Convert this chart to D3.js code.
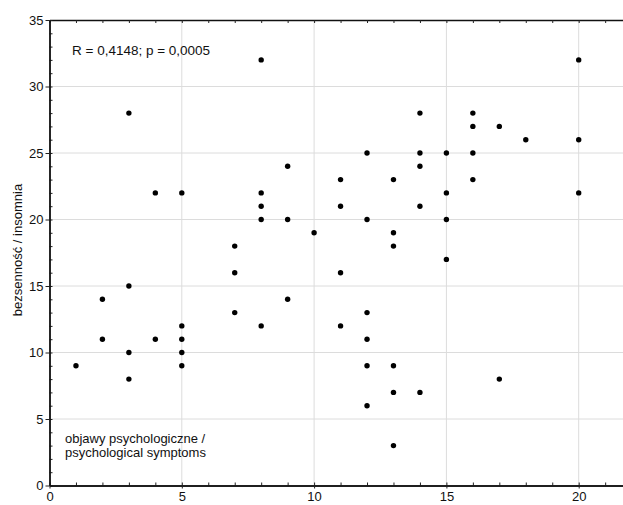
<!DOCTYPE html>
<html>
<head>
<meta charset="utf-8">
<script src="https://cdn.jsdelivr.net/npm/d3@7"></script>
<style>
  body { margin: 0; background: #fff; }
  text { font-family: "Liberation Sans", Arial, sans-serif; }
</style>
</head>
<body>
<div id="canvas"></div>
<script>
"use strict"

/* Data */
let symptoms = [1, 2, 2, 3, 3, 3, 3, 4, 4, 5, 5, 5, 5, 5,
    7, 7, 7, 8, 8, 8, 8, 8, 9, 9, 9, 10,
    11, 11, 11, 11, 12, 12, 12, 12, 12, 12,
    13, 13, 13, 13, 13, 13, 14, 14, 14, 14, 14,
    15, 15, 15, 15, 16, 16, 16, 16, 17, 17, 18, 20, 20, 20];
let insomnia = [9, 14, 11, 28, 15, 10, 8, 22, 11, 22, 12, 11, 10, 9,
    18, 16, 13, 32, 22, 21, 20, 12, 24, 20, 14, 19,
    23, 21, 16, 12, 25, 20, 13, 11, 9, 6,
    23, 19, 18, 9, 7, 3, 28, 25, 24, 21, 7,
    25, 22, 20, 17, 28, 27, 25, 23, 27, 8, 26, 32, 26, 22];
let xTicks = [0, 5, 10, 15, 20];
let yTicks = [0, 5, 10, 15, 20, 25, 30, 35];
let statsText = "R = 0,4148; p = 0,0005";
let xTitle = ["objawy psychologiczne /", "psychological symptoms"];
let yTitle = "bezsenność / insomnia";

/* Drawing configuration */
let svgWidth = 623;
let svgHeight = 505;
let plotLeft = 49.5;
let plotTop = 20;
let plotBottom = 485.5;
let unitX = 26.46;

let svg = d3.select("#canvas")
    .append("svg")
    .attr("width", svgWidth)
    .attr("height", svgHeight);

let xScale = d3.scaleLinear()
    .domain([0, 22])
    .range([plotLeft, plotLeft + 22 * unitX]);

let yScale = d3.scaleLinear()
    .domain([0, 35])
    .range([plotBottom, plotTop]);

/* Grid lines */
svg.append("g")
    .selectAll("line")
    .data(xTicks.filter(d => d > 0))
    .join("line")
    .attr("x1", d => xScale(d))
    .attr("x2", d => xScale(d))
    .attr("y1", plotTop)
    .attr("y2", plotBottom)
    .attr("stroke", "#dcdcdc")
    .attr("stroke-width", 1);

svg.append("g")
    .selectAll("line")
    .data(yTicks.filter(d => d > 0 && d < 35))
    .join("line")
    .attr("x1", plotLeft)
    .attr("x2", svgWidth)
    .attr("y1", d => yScale(d))
    .attr("y2", d => yScale(d))
    .attr("stroke", "#dcdcdc")
    .attr("stroke-width", 1);

/* Minor ticks on each integer */
let minorX = d3.range(0, 23);
let minorY = d3.range(0, 36);

let bottomMinor = svg.append("g")
    .attr("transform", "translate(0," + plotBottom + ")")
    .call(d3.axisBottom(xScale).tickValues(minorX).tickSizeInner(-3).tickSizeOuter(0).tickFormat(""));

let topMinor = svg.append("g")
    .attr("transform", "translate(0," + plotTop + ")")
    .call(d3.axisTop(xScale).tickValues(minorX).tickSizeInner(-3).tickSizeOuter(0).tickFormat(""));

let leftMinor = svg.append("g")
    .attr("transform", "translate(" + plotLeft + ",0)")
    .call(d3.axisLeft(yScale).tickValues(minorY).tickSizeInner(-3).tickSizeOuter(0).tickFormat(""));

/* Major ticks with labels */
let xAxis = svg.append("g")
    .attr("transform", "translate(0," + plotBottom + ")")
    .call(d3.axisBottom(xScale).tickValues(xTicks).tickSize(3).tickPadding(3).tickSizeOuter(0));

let yAxis = svg.append("g")
    .attr("transform", "translate(" + plotLeft + ",0)")
    .call(d3.axisLeft(yScale).tickValues(yTicks).tickSize(4).tickPadding(2).tickSizeOuter(0));

svg.selectAll(".domain")
    .attr("stroke", "#111")
    .attr("stroke-width", 1.4);
svg.selectAll(".tick line")
    .attr("stroke", "#222");
svg.selectAll(".tick text")
    .attr("fill", "#111")
    .style("font-size", "13px")
    .style("font-family", "Liberation Sans, Arial, sans-serif");

/* Points */
let points = d3.range(symptoms.length).map(i => ({ x: symptoms[i], y: insomnia[i] }));

svg.append("g")
    .selectAll("circle")
    .data(points)
    .join("circle")
    .attr("cx", d => xScale(d.x))
    .attr("cy", d => yScale(d.y))
    .attr("r", 2.7)
    .attr("fill", "#000");

/* Texts */
svg.append("text")
    .attr("x", 72)
    .attr("y", 55)
    .attr("font-size", "13.5px")
    .attr("fill", "#111")
    .text(statsText);

svg.append("text")
    .attr("x", 65)
    .attr("y", 442.5)
    .attr("font-size", "13px")
    .attr("fill", "#111")
    .selectAll("tspan")
    .data(xTitle)
    .join("tspan")
    .attr("x", 65)
    .attr("dy", (d, i) => i === 0 ? 0 : 14)
    .text(d => d);

svg.append("text")
    .attr("transform", "translate(22,250) rotate(-90)")
    .attr("text-anchor", "middle")
    .attr("font-size", "13px")
    .attr("fill", "#111")
    .text(yTitle);
</script>
</body>
</html>
